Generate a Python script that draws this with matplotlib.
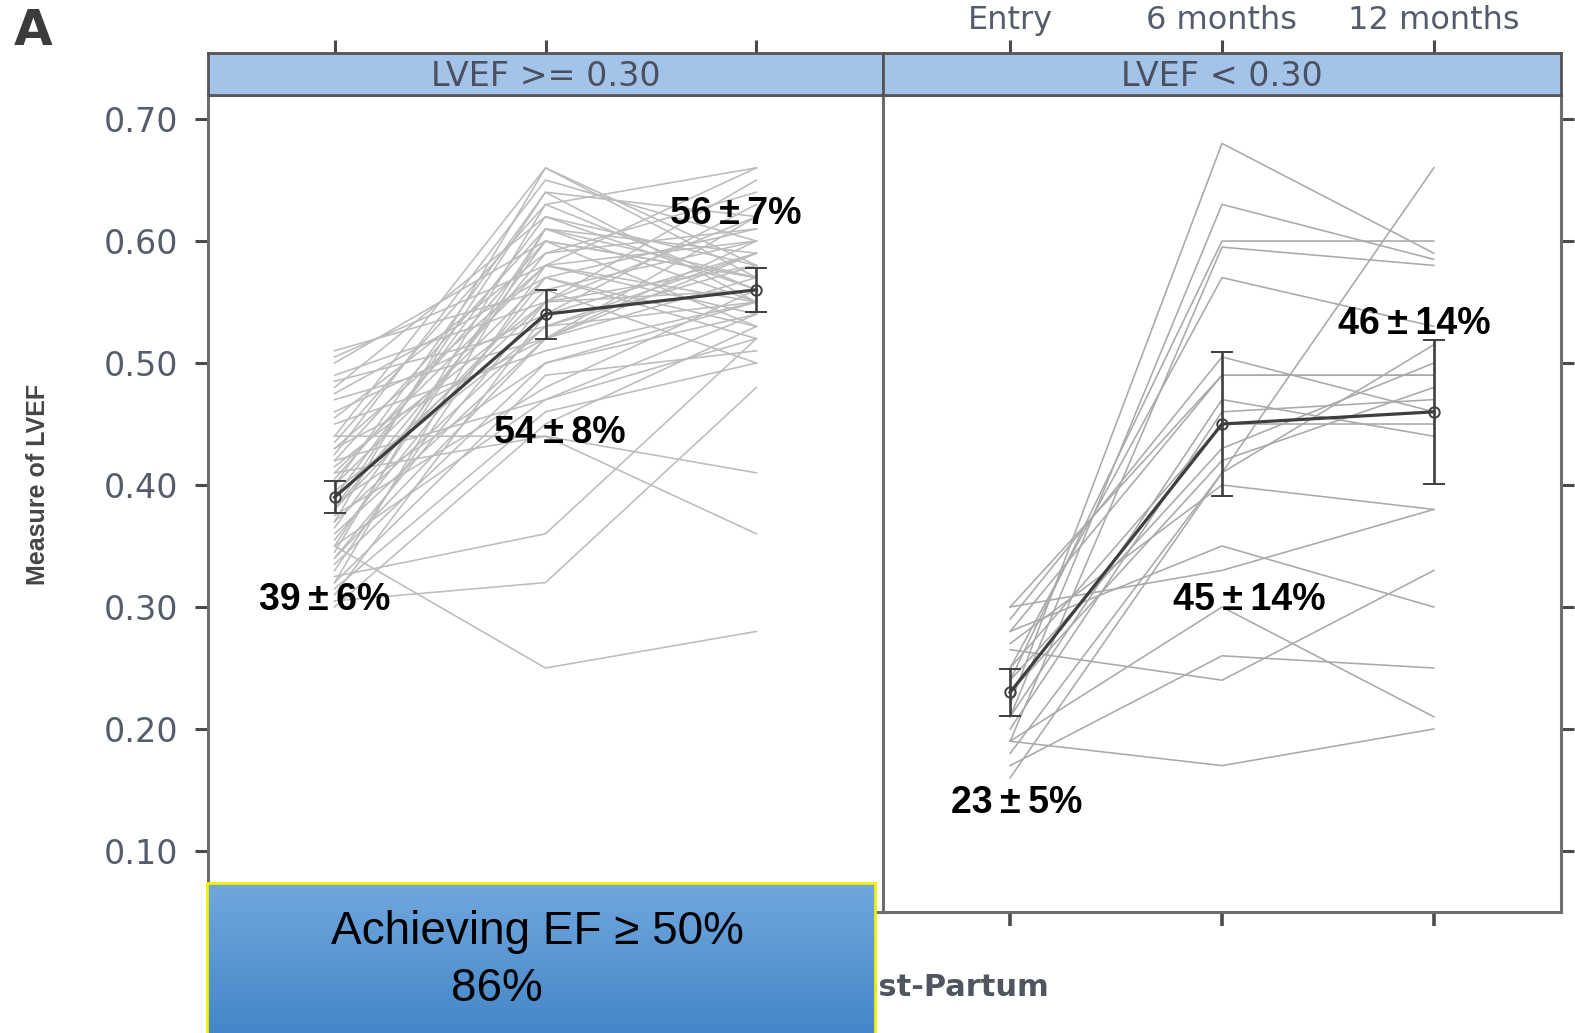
import numpy as np
import matplotlib.pyplot as plt
from matplotlib import font_manager
from matplotlib.colors import LinearSegmentedColormap

W, H = 1575, 1033

# ---- data -------------------------------------------------------------
timepoints = [1, 2, 3]
time_labels = ["Entry", "6 months", "12 months"]
panel_titles = ["LVEF >= 0.30", "LVEF < 0.30"]
y_ticks = [0.10, 0.20, 0.30, 0.40, 0.50, 0.60, 0.70]

# individual patients, LVEF >= 0.30 at entry
high_entry = [0.51, 0.505, 0.50, 0.49, 0.485, 0.48, 0.475, 0.47, 0.46, 0.455,
              0.45, 0.44, 0.44, 0.435, 0.43, 0.425, 0.42, 0.415, 0.41, 0.405,
              0.40, 0.40, 0.395, 0.39, 0.385, 0.38, 0.38, 0.375, 0.37, 0.365,
              0.36, 0.35, 0.355, 0.35, 0.345, 0.34, 0.335, 0.33, 0.325, 0.32,
              0.32, 0.315, 0.31, 0.305, 0.30, 0.43, 0.41, 0.39, 0.37, 0.35,
              0.42, 0.34, 0.38]
high_6m = [0.56, 0.58, 0.60, 0.55, 0.53, 0.62, 0.57, 0.52, 0.54, 0.59,
           0.51, 0.66, 0.44, 0.63, 0.58, 0.65, 0.61, 0.55, 0.44, 0.60,
           0.64, 0.57, 0.53, 0.62, 0.50, 0.59, 0.56, 0.48, 0.66, 0.60,
           0.52, 0.25, 0.57, 0.47, 0.63, 0.55, 0.50, 0.58, 0.36, 0.49,
           0.61, 0.46, 0.54, 0.32, 0.45, 0.52, 0.58, 0.55, 0.53, 0.61,
           0.47, 0.52, 0.64]
high_12m = [0.60, 0.55, 0.57, 0.62, 0.58, 0.56, 0.53, 0.59, 0.63, 0.61,
            0.55, 0.58, 0.36, 0.66, 0.54, 0.60, 0.55, 0.65, 0.41, 0.57,
            0.62, 0.52, 0.59, 0.58, 0.55, 0.64, 0.50, 0.56, 0.57, 0.53,
            0.60, 0.28, 0.61, 0.52, 0.56, 0.58, 0.54, 0.66, 0.52, 0.51,
            0.57, 0.50, 0.59, 0.48, 0.53, 0.57, 0.60, 0.56, 0.55, 0.59,
            0.54, 0.62, 0.55]

# individual patients, LVEF < 0.30 at entry
low_entry = [0.22, 0.21, 0.24, 0.19, 0.25, 0.16, 0.29, 0.28, 0.30, 0.24, 0.23,
             0.20, 0.27, 0.265, 0.17, 0.19, 0.19, 0.28, 0.18, 0.30, 0.25, 0.21]
low_6m = [0.68, 0.63, 0.60, 0.595, 0.57, 0.41, 0.505, 0.49, 0.49, 0.43, 0.42,
          0.46, 0.40, 0.24, 0.26, 0.30, 0.17, 0.35, 0.41, 0.33, 0.45, 0.47]
low_12m = [0.59, 0.585, 0.60, 0.58, 0.53, 0.66, 0.46, 0.49, 0.49, 0.50, 0.48,
           0.47, 0.38, 0.33, 0.25, 0.21, 0.20, 0.30, 0.515, 0.38, 0.45, 0.44]

# group summaries (percent mean +/- SD) and confidence half-widths
high_mean_pct = [39, 54, 56]
high_sd_pct = [6, 8, 7]
high_ci = [0.013, 0.020, 0.018]
low_mean_pct = [23, 45, 46]
low_sd_pct = [5, 14, 14]
low_ci = [0.019, 0.059, 0.059]

box_line1 = "Achieving EF \u2265 50%"
box_line2 = "86%"
x_label = "Time Post-Partum"
y_label = "Measure of LVEF"

# ---- styling ----------------------------------------------------------
TICK_COLOR = "#4a4a4a"
LABEL_COLOR = "#555c6b"
FRAME_COLOR = "#6e6e6e"
STRIP_COLOR = "#a3c4e8"
XLIM = (0.4, 3.6)
YLIM = (0.05, 0.7197)

installed = {f.name for f in font_manager.fontManager.ttflist}
HAS_NARROW = "Liberation Sans Narrow" in installed
NARROW = "Liberation Sans Narrow" if HAS_NARROW else "Liberation Sans"


def fx(px):
    return px / W


def fy(py):
    return 1 - py / H


fig = plt.figure(figsize=(W / 100, H / 100), dpi=100)

panel_bottom, panel_top = 912, 95
strip_top = 53
panels = [(208, 883), (883, 1561)]

groups = [
    (high_entry, high_6m, high_12m, high_mean_pct, high_sd_pct, high_ci, "#bcbcbc",
     [(0.955, 0.306), (2.07, 0.443), (2.90, 0.622)]),
    (low_entry, low_6m, low_12m, low_mean_pct, low_sd_pct, low_ci, "#a9a9a9",
     [(1.03, 0.139), (2.13, 0.306), (2.91, 0.532)]),
]

for i, ((x0, x1), grp) in enumerate(zip(panels, groups)):
    entry, m6, m12, mean_pct, sd_pct, ci, line_color, label_pos = grp
    ax = fig.add_axes([fx(x0), fy(panel_bottom), fx(x1 - x0),
                       (panel_bottom - panel_top) / H])
    ax.set_xlim(*XLIM)
    ax.set_ylim(*YLIM)

    for a, b, c in zip(entry, m6, m12):
        ax.plot(timepoints, [a, b, c], color=line_color, lw=1.15, zorder=2)

    means = [m / 100 for m in mean_pct]
    ax.errorbar(timepoints, means, yerr=ci, color="#3e3e3e", lw=2.3,
                elinewidth=1.9, capsize=8, capthick=2.2, marker="o",
                markersize=7.5, markerfacecolor="none", markeredgecolor="#3e3e3e",
                markeredgewidth=1.4, zorder=4)

    for (tx, ty), m, s in zip(label_pos, mean_pct, sd_pct):
        ax.text(tx, ty, f"{m}\u2009\u00b1\u2009{s}%", ha="center", va="center",
                fontsize=27, fontweight="bold",
                family=["Liberation Sans", "DejaVu Sans"],
                color="black", zorder=5)

    for sp in ax.spines.values():
        sp.set_color(FRAME_COLOR)
        sp.set_linewidth(2.2)
    ax.set_yticks(y_ticks)
    ax.set_xticks(timepoints)
    ax.set_xticklabels([])
    if i == 0:
        ax.tick_params(axis="y", direction="out", length=9.5, width=2.2,
                       color=TICK_COLOR, labelsize=24, labelcolor=LABEL_COLOR,
                       pad=12)
        ax.set_yticklabels([f"{v:.2f}" for v in y_ticks])
        ax.tick_params(axis="x", bottom=False)
    else:
        ax.tick_params(axis="y", left=False, right=True, labelleft=False,
                       direction="out", length=9.5, width=2.2, color=TICK_COLOR)
        ax.tick_params(axis="x", direction="out", length=10, width=2.6,
                       color=TICK_COLOR)

    # panel strip with title and the time ticks on top
    sax = fig.add_axes([fx(x0), fy(panel_top), fx(x1 - x0),
                        (panel_top - strip_top) / H])
    sax.set_facecolor(STRIP_COLOR)
    sax.set_xlim(*XLIM)
    sax.set_ylim(0, 1)
    sax.set_yticks([])
    sax.set_xticks(timepoints)
    sax.xaxis.tick_top()
    sax.tick_params(axis="x", direction="out", length=9.5, width=2.2,
                    color=TICK_COLOR, labelsize=23, labelcolor=LABEL_COLOR,
                    pad=3)
    if i == 1:
        sax.set_xticklabels(time_labels)
    else:
        sax.set_xticklabels([])
    for sp in sax.spines.values():
        sp.set_color("#555555")
        sp.set_linewidth(2.0)
    sax.text(0.5, 0.45, panel_titles[i], transform=sax.transAxes, ha="center",
             va="center", fontsize=24, color="#4b5060")

# axis titles and panel letter
if HAS_NARROW:
    fig.text(fx(38), fy(484), y_label, rotation=90, ha="center", va="center",
             fontsize=22, fontweight="bold", color="#454545", family=NARROW)
else:
    fig.text(fx(38), fy(484), y_label, rotation=90, ha="center", va="center",
             fontsize=18, fontweight="bold", color="#454545", family=NARROW)
fig.text(fx(895), fy(988), x_label, ha="center", va="center", fontsize=22,
         fontweight="bold", color="#50555f", zorder=1)
fig.text(fx(14), fy(45), "A", ha="left", va="baseline", fontsize=36,
         fontweight="bold", color="#3c3c3c")

# highlighted result box with vertical gradient
bax = fig.add_axes([fx(207), 0, fx(875 - 207), (H - 883) / H])
bax.set_zorder(10)
grad_cmap = LinearSegmentedColormap.from_list("boxgrad", ["#71a7de", "#4487c8"])
bax.imshow(np.linspace(0, 1, 256).reshape(-1, 1), aspect="auto", cmap=grad_cmap,
           extent=(0, 1, 0, 1), origin="upper")
bax.set_xlim(0, 1)
bax.set_ylim(0, 1)
bax.set_xticks([])
bax.set_yticks([])
for name, sp in bax.spines.items():
    sp.set_color("#f2f000")
    sp.set_linewidth(2.0)
bax.spines["bottom"].set_visible(False)
box_size = 37 if HAS_NARROW else 33
bax.text((537 - 207) / 668, 1 - (932 - 883) / 150, box_line1, ha="center",
         va="center", fontsize=box_size, family=[NARROW, "DejaVu Sans"],
         color="black")
bax.text((497 - 207) / 668, 1 - (989 - 883) / 150, box_line2, ha="center",
         va="center", fontsize=box_size, family=[NARROW, "DejaVu Sans"],
         color="black")

fig.savefig("out.png", dpi=100)
